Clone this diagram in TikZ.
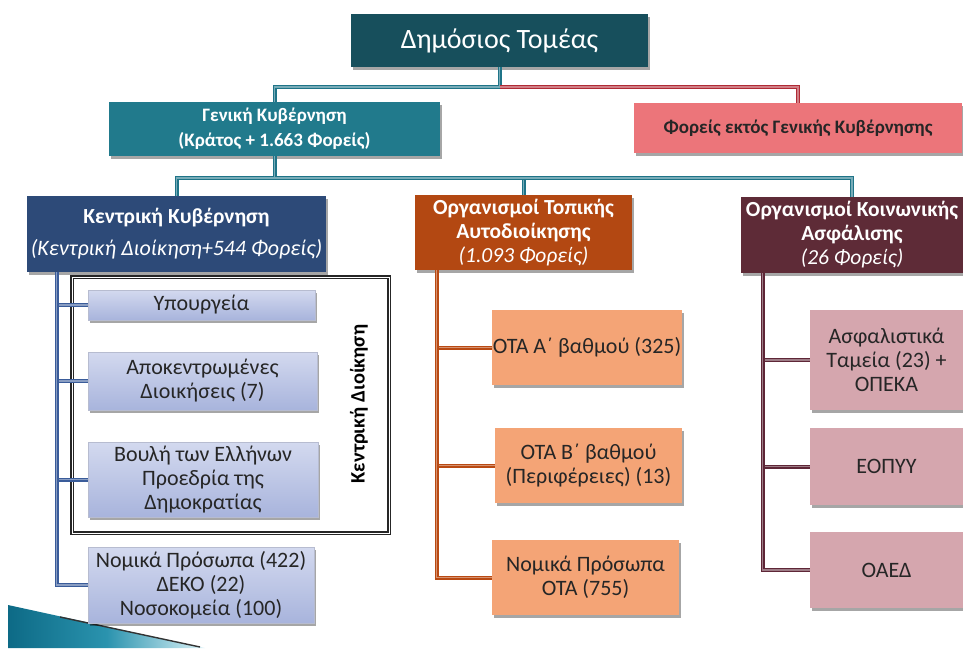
\documentclass[tikz,border=0pt]{standalone}
\usepackage{fontspec}
\setmainfont{Carlito}
\usetikzlibrary{positioning, shadows}
\definecolor{sectorteal}{HTML}{174F5C}
\definecolor{genteal}{HTML}{217A8C}
\definecolor{outred}{HTML}{EC757A}
\definecolor{centralblue}{HTML}{2D4A78}
\definecolor{localorange}{HTML}{B34812}
\definecolor{socialwine}{HTML}{5E2B37}
\definecolor{lavtop}{HTML}{D3D9EF}
\definecolor{lavbot}{HTML}{A8B4DC}
\definecolor{otapeach}{HTML}{F4A476}
\definecolor{socialpink}{HTML}{D5A6AE}
\definecolor{linkteal}{HTML}{1F7488}
\definecolor{linkred}{HTML}{B02A35}
\definecolor{linkblue}{HTML}{3A5C9A}
\definecolor{linkorange}{HTML}{B94A12}
\definecolor{linkwine}{HTML}{5E2637}
\definecolor{bulletdark}{HTML}{0D6A86}
\definecolor{bulletmid}{HTML}{2A93AE}
\definecolor{bulletlight}{HTML}{DDF3F8}

\tikzset{
  boxshadow/.style={drop shadow={shadow xshift=2pt, shadow yshift=-3pt, opacity=0.35, fill=black}},
  sz/.style 2 args={minimum width=#1pt, minimum height=#2pt},
  headbox/.style={fill=#1, text=white, align=center, inner sep=1pt, boxshadow},
  leafbox/.style={fill=#1, text=black!85, align=center, inner sep=1pt, boxshadow},
  lavbox/.style={top color=lavtop, bottom color=lavbot, draw=lavbot!80!black!60, line width=0.3pt,
    text=black!85, align=center, inner sep=1pt, boxshadow},
  linkline/.style={draw=#1, double=#1!60!white, double distance=1.2pt, line width=1.4pt},
  leaffont/.style={font=\fontsize{22}{24}\selectfont},
  headfont/.style={font=\fontsize{21.5}{24}\selectfont}
}

\begin{document}
\begin{tikzpicture}[x=1pt, y=-1pt]
  \useasboundingbox (0,0) rectangle (963,648);

  % bullet in the corner
  \shade[left color=bulletdark, right color=bulletlight, middle color=bulletmid] (8,605) -- (205,648) -- (8,648) -- cycle;
  \draw[black!80, line width=1.4pt] (60,617) -- (200,647);

  % top levels
  \node[headbox=sectorteal, sz={297}{53}, font=\fontsize{28}{32}\selectfont] (top) at (499.5,40.5) {Δημόσιος Τομέας};
  \node[headbox=genteal, sz={331}{54}, font=\bfseries\fontsize{19}{25}\selectfont] (gen) at (274.5,129)
    {Γενική Κυβέρνηση\\(Κράτος + 1.663 Φορείς)};
  \node[leafbox=outred, sz={328}{50}, font=\bfseries\fontsize{19}{22}\selectfont] (out) at (798,128)
    {Φορείς εκτός Γενικής Κυβέρνησης};

  \node[headbox=centralblue, sz={299}{76}, font=\fontsize{22}{32}\selectfont] (kk) at (176.5,234)
    {\textbf{\fontsize{21.5}{32}\selectfont Κεντρική Κυβέρνηση}\\\textit{(Κεντρική Διοίκηση+544 Φορείς)}};
  \node[headbox=localorange, headfont, sz={217}{75}] (ota) at (523.5,232.5)
    {\textbf{Οργανισμοί Τοπικής}\\\textbf{Αυτοδιοίκησης}\\\textit{(1.093 Φορείς)}};
  \node[headbox=socialwine, headfont, sz={222}{76}] (oka) at (852,235)
    {\textbf{Οργανισμοί Κοινωνικής}\\\textbf{Ασφάλισης}\\\textit{(26 Φορείς)}};

  % central administration frame
  \node[draw=black!85, double=white, double distance=1pt, line width=1.2pt, sz={317}{256}] (kdframe) at (230.5,405) {};
  \node[rotate=90, font=\bfseries\fontsize{20.5}{24}\selectfont] (kdlabel) at (359,404) {Κεντρική Διοίκηση};

  \node[lavbox, leaffont, sz={227}{30}] (ypo) at (201.5,305) {Υπουργεία};
  \node[lavbox, leaffont, sz={229}{58}] (apo) at (202.5,381) {Αποκεντρωμένες\\Διοικήσεις (7)};
  \node[lavbox, leaffont, sz={230}{75}] (bou) at (203,479.5) {Βουλή των Ελλήνων\\Προεδρία της\\Δημοκρατίας};
  \node[lavbox, leaffont, sz={226}{76}] (nom) at (201,585) {Νομικά Πρόσωπα (422)\\ΔΕΚΟ (22)\\Νοσοκομεία (100)};

  \node[leafbox=otapeach, leaffont, sz={190}{75}] (otaA) at (587,347.5) {ΟΤΑ Α΄ βαθμού (325)};
  \node[leafbox=otapeach, leaffont, sz={187}{75}] (otaB) at (588.5,465.5) {ΟΤΑ Β΄ βαθμού\\(Περιφέρειες) (13)};
  \node[leafbox=otapeach, leaffont, sz={187}{75}] (otaN) at (585.5,577.5) {Νομικά Πρόσωπα\\ΟΤΑ (755)};

  \node[leafbox=socialpink, leaffont, sz={153}{100}] (asf) at (886.5,360) {Ασφαλιστικά\\Ταμεία (23) +\\ΟΠΕΚΑ};
  \node[leafbox=socialpink, leaffont, sz={153}{77}] (eop) at (886.5,466.5) {ΕΟΠΥΥ};
  \node[leafbox=socialpink, leaffont, sz={153}{76}] (oaed) at (886.5,570) {ΟΑΕΔ};

  % connectors
  \coordinate (split) at (499.5,87);
  \draw[linkline=linkteal] (top.south) -- (split) -| (gen.north);
  \draw[linkline=linkred] (split) -| (out.north);
  \coordinate (gensplit) at (274.5,178);
  \draw[linkline=linkteal] (gen.south) -- (gensplit) -| (kk.north);
  \draw[linkline=linkteal] (gensplit) -| (ota.north);
  \draw[linkline=linkteal] (gensplit) -| (oka.north);

  \coordinate (kktrunk) at ([xshift=30pt]kk.south west);
  \coordinate (otatrunk) at ([xshift=22pt]ota.south west);
  \coordinate (okatrunk) at ([xshift=22pt]oka.south west);
  \foreach \leaf in {ypo, apo, bou, nom}
    \draw[linkline=linkblue] (kktrunk) |- (\leaf.west);
  \foreach \leaf in {otaA, otaB, otaN}
    \draw[linkline=linkorange] (otatrunk) |- (\leaf.west);
  \foreach \leaf in {asf, eop, oaed}
    \draw[linkline=linkwine] (okatrunk) |- (\leaf.west);
\end{tikzpicture}
\end{document}
